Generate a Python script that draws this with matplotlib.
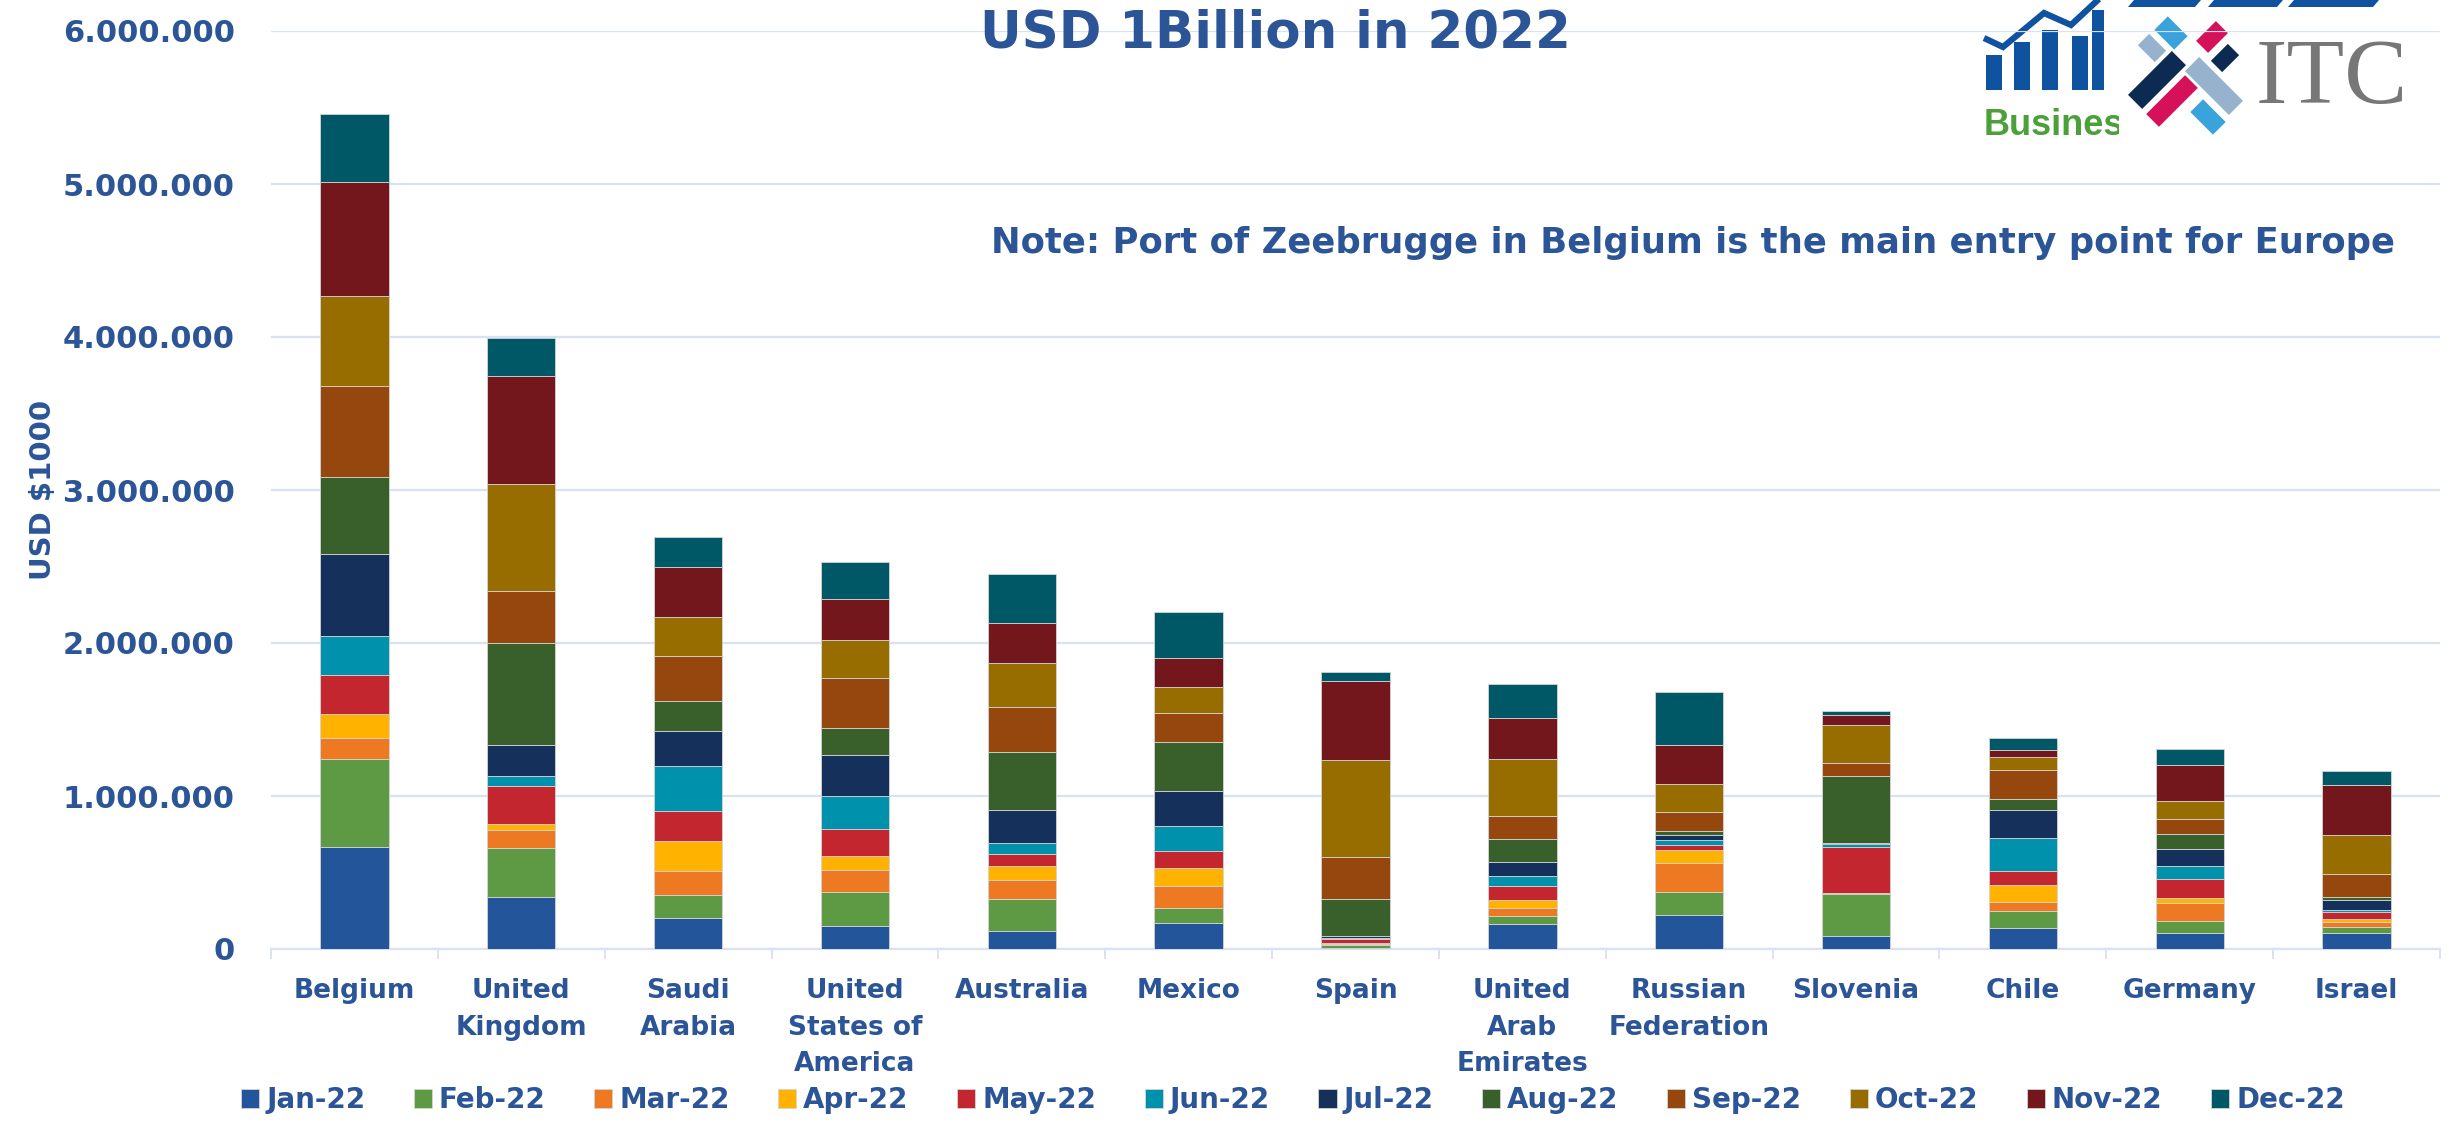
import numpy as np
import matplotlib
matplotlib.use("Agg")
import matplotlib.pyplot as plt
from matplotlib.patches import Polygon, Rectangle
from matplotlib.ticker import FuncFormatter

# ---------------- data (values in thousands of "USD $1000" units) ----------------
countries = ["Belgium", "United\nKingdom", "Saudi\nArabia", "United\nStates of\nAmerica",
             "Australia", "Mexico", "Spain", "United\nArab\nEmirates", "Russian\nFederation",
             "Slovenia", "Chile", "Germany", "Israel"]
months = ["Jan-22", "Feb-22", "Mar-22", "Apr-22", "May-22", "Jun-22",
          "Jul-22", "Aug-22", "Sep-22", "Oct-22", "Nov-22", "Dec-22"]

jan = [667, 337, 200, 151, 120, 172, 4, 164, 223, 85, 140, 103, 103]
feb = [572, 323, 154, 222, 210, 99, 20, 50, 150, 277, 109, 83, 41]
mar = [140, 117, 157, 142, 124, 144, 11, 52, 190, 3, 59, 113, 33]
apr = [154, 41, 195, 92, 87, 116, 4, 57, 85, 2, 111, 37, 17]
may = [257, 249, 194, 175, 83, 107, 24, 90, 31, 301, 88, 123, 48]
jun = [253, 66, 297, 220, 66, 165, 7, 63, 33, 20, 216, 85, 11]
jul = [539, 198, 228, 269, 220, 228, 17, 90, 35, 4, 183, 111, 64]
aug = [502, 671, 195, 172, 376, 321, 243, 155, 22, 441, 72, 98, 24]
sep = [594, 341, 292, 326, 295, 189, 270, 146, 124, 81, 190, 99, 150]
oct_ = [590, 697, 260, 251, 290, 171, 638, 375, 183, 249, 85, 115, 251]
nov = [748, 708, 323, 268, 258, 192, 511, 265, 260, 65, 50, 238, 332]
dec = [444, 245, 201, 240, 325, 299, 61, 224, 343, 27, 73, 101, 92]
UNIT = 1000  # values above are in thousands

series = [jan, feb, mar, apr, may, jun, jul, aug, sep, oct_, nov, dec]
colors = ["#23559B", "#5E9A44", "#ED7922", "#FFB300", "#C3262F", "#0092AC",
          "#15315B", "#395F2A", "#95470D", "#986D00", "#74171C", "#005867"]

title = "USD 1Billion in 2022"
note = "Note: Port of Zeebrugge in Belgium is the main entry point for Europe"
ylabel = "USD $1000"

BLUE = "#2B5597"
GRID = "#D9E2F3"

W, H = 2458, 1125
fig = plt.figure(figsize=(W / 100, H / 100), dpi=100)

# ---------------- logo overlay (pixel coordinates, y down) ----------------
lax = fig.add_axes([0, 0, 1, 1], zorder=0)
lax.set_xlim(0, W)
lax.set_ylim(H, 0)
lax.axis("off")

LOGO_BLUE = "#0F52A0"
for (x0, top, w) in [(1986, 55, 16), (2014, 42, 16), (2042, 30, 16), (2072, 36, 16), (2092, 10, 12)]:
    lax.add_patch(Rectangle((x0, top), w, 90 - top, color=LOGO_BLUE, lw=0, zorder=1))
lax.plot([1984, 2003, 2044, 2071, 2100], [38, 47, 13, 25, -2], color=LOGO_BLUE, lw=4.5,
         solid_capstyle="butt", solid_joinstyle="miter", zorder=2)
lax.text(1984, 135, "Business", fontsize=26, fontweight="bold", color="#4BA03A",
         family="Liberation Sans", ha="left", va="baseline", zorder=2)
for (xa, xb) in [(2128, 2195), (2208, 2277), (2288, 2373)]:
    lax.add_patch(Polygon([(xa + 6, 0), (xb + 6, 0), (xb, 7), (xa, 7)], closed=True,
                          color=LOGO_BLUE, lw=0, zorder=2))
lax.add_patch(Rectangle((2119, 7), 325, 143, color="white", lw=0, zorder=4))


def rot_rect(cx, cy, length, width, diag, color):
    d = np.array([1.0, 1.0 if diag == "\\" else -1.0]) / np.sqrt(2)
    n = np.array([-d[1], d[0]])
    c = np.array([cx, cy])
    pts = [c + d * length / 2 + n * width / 2, c + d * length / 2 - n * width / 2,
           c - d * length / 2 - n * width / 2, c - d * length / 2 + n * width / 2]
    lax.add_patch(Polygon(pts, closed=True, color=color, lw=0, zorder=5))


rot_rect(2171, 33, 28, 19, "\\", "#3BA3DC")
rot_rect(2152, 48, 24, 16, "\\", "#97B2CC")
rot_rect(2212, 37, 28, 17, "/", "#D51159")
rot_rect(2225, 58, 24, 16, "/", "#0D2B52")
rot_rect(2157, 80, 62, 20, "/", "#0D2B52")
rot_rect(2214, 86, 62, 20, "\\", "#97B2CC")
rot_rect(2172, 101, 55, 18, "/", "#D51159")
rot_rect(2208, 117, 32, 18, "\\", "#3BA3DC")
lax.text(2256, 103, "ITC", fontsize=68, color="#777777", family="Liberation Serif",
         ha="left", va="baseline", zorder=6)

# ---------------- main chart ----------------
ax = fig.add_axes([271 / W, 1 - 949 / H, 2169 / W, 918 / H], zorder=1)
ax.patch.set_alpha(0)

x = np.arange(len(countries))
bottom = np.zeros(len(countries))
handles = []
for vals, col, lab in zip(series, colors, months):
    v = np.array(vals, dtype=float) * UNIT
    b = ax.bar(x, v, width=0.41, bottom=bottom, color=col, edgecolor="#d4d4d4",
               linewidth=0.6, label=lab, zorder=3)
    handles.append(b)
    bottom += v

ax.set_xlim(-0.5, len(countries) - 0.5)
ax.set_ylim(0, 6_000_000)
ax.set_yticks(np.arange(0, 6_000_001, 1_000_000))
ax.yaxis.set_major_formatter(FuncFormatter(lambda v, p: f"{int(v):,}".replace(",", ".")))
ax.yaxis.grid(True, color=GRID, lw=1.6, zorder=0)
ax.set_axisbelow(True)

for s in ["top", "right", "left"]:
    ax.spines[s].set_visible(False)
ax.spines["bottom"].set_color(GRID)
ax.spines["bottom"].set_linewidth(1.6)

ax.set_xticks(x)
ax.set_xticklabels(countries, fontweight="bold", linespacing=1.53, va="top")
ax.tick_params(axis="x", which="major", length=0, pad=21, labelsize=19, labelcolor=BLUE)
ax.set_xticks(np.arange(-0.5, len(countries), 1), minor=True)
ax.tick_params(axis="x", which="minor", length=7, width=1.4, color=GRID)
ax.tick_params(axis="y", length=0, pad=26, labelsize=22, labelcolor=BLUE)
for t in ax.get_yticklabels():
    t.set_fontweight("bold")

ax.set_ylabel(ylabel, fontsize=21, fontweight="bold", color=BLUE)
ax.yaxis.set_label_coords(-0.0985, 0.5)

fig.text(0.519, 1 - 34 / H, title, ha="center", va="center", fontsize=37,
         fontweight="bold", color=BLUE)
fig.text(2395 / W, 1 - 243 / H, note, ha="right", va="center", fontsize=25.5,
         fontweight="bold", color=BLUE)

fig.legend(handles=handles, labels=months, ncol=12, loc="center",
           bbox_to_anchor=(0.526, 1 - 1100 / H), frameon=False,
           prop={"weight": "bold", "size": 20}, labelcolor=BLUE,
           handlelength=0.65, handleheight=0.65, handletextpad=0.25,
           columnspacing=1.75)

fig.savefig("out.png", dpi=100)
